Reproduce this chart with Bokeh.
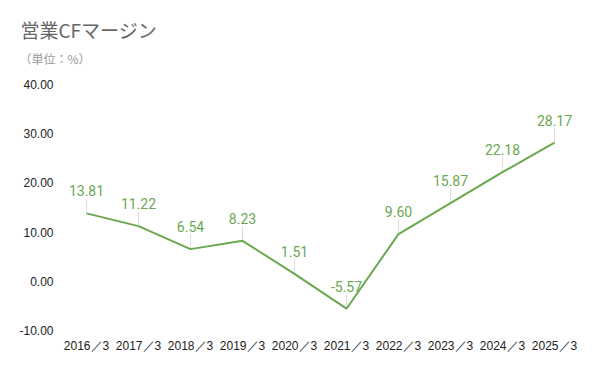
from bokeh.plotting import figure
from bokeh.models import Title, FixedTicker, NumeralTickFormatter, Range1d, ColumnDataSource
from bokeh.core.properties import value
from bokeh.embed import file_html
from bokeh.resources import INLINE

categories = ["2016／3", "2017／3", "2018／3", "2019／3", "2020／3",
              "2021／3", "2022／3", "2023／3", "2024／3", "2025／3"]
margins = [13.81, 11.22, 6.54, 8.23, 1.51, -5.57, 9.60, 15.87, 22.18, 28.17]
y_ticks = [-10, 0, 10, 20, 30, 40]

GREEN = "#6aa84f"
xs = list(range(len(categories)))

p = figure(width=584, height=355, output_backend="svg", toolbar_location=None, title=None,
           x_range=Range1d(-0.5, 9.5), y_range=Range1d(-10, 40),
           min_border_left=60, min_border_right=4, min_border_top=84, min_border_bottom=24)
p.outline_line_color = None
p.xgrid.visible = False
p.ygrid.visible = False
p.background_fill_color = "white"
p.border_fill_color = "white"

# leader lines
lead = [v + 3.0 for v in margins]
p.segment(x0=xs, y0=margins, x1=xs, y1=lead, line_color="#dddddd", line_width=1)

src = ColumnDataSource(dict(x=xs, y=margins, lbl=[f"{v:.2f}" for v in margins]))
p.line("x", "y", source=src, line_color=GREEN, line_width=2)
p.text("x", "y", text="lbl", source=src, text_color=GREEN, text_font=value("Roboto"),
       text_font_size="14px", text_align="center", text_baseline="bottom", y_offset=-17)

for ax in (p.xaxis[0], p.yaxis[0]):
    ax.axis_line_color = None
    ax.major_tick_line_color = None
    ax.minor_tick_line_color = None
    ax.major_tick_out = 0
    ax.major_tick_in = 0
    ax.major_label_text_font = "Liberation Sans"
    ax.major_label_text_font_size = "12px"
    ax.major_label_text_color = "#222222"

p.yaxis.ticker = FixedTicker(ticks=y_ticks)
p.yaxis.formatter = NumeralTickFormatter(format="0.00")
p.yaxis.major_label_standoff = 7
p.xaxis.ticker = FixedTicker(ticks=xs)
p.xaxis.major_label_overrides = {i: c for i, c in enumerate(categories)}
p.xaxis.major_label_standoff = 8

sub = Title(text="（単位：%）", text_font="Noto Sans CJK JP", text_font_size="12px",
            text_color="#999999", text_font_style="normal", align="left", offset=-41,
            standoff=35)
ttl = Title(text="営業CFマージン", text_font="Noto Sans CJK JP", text_font_size="19px",
            text_color="#666666", text_font_style="normal", align="left", offset=-40,
            standoff=-25)
p.add_layout(sub, "above")
p.add_layout(ttl, "above")

open("out.html", "w").write(file_html(p, INLINE))
